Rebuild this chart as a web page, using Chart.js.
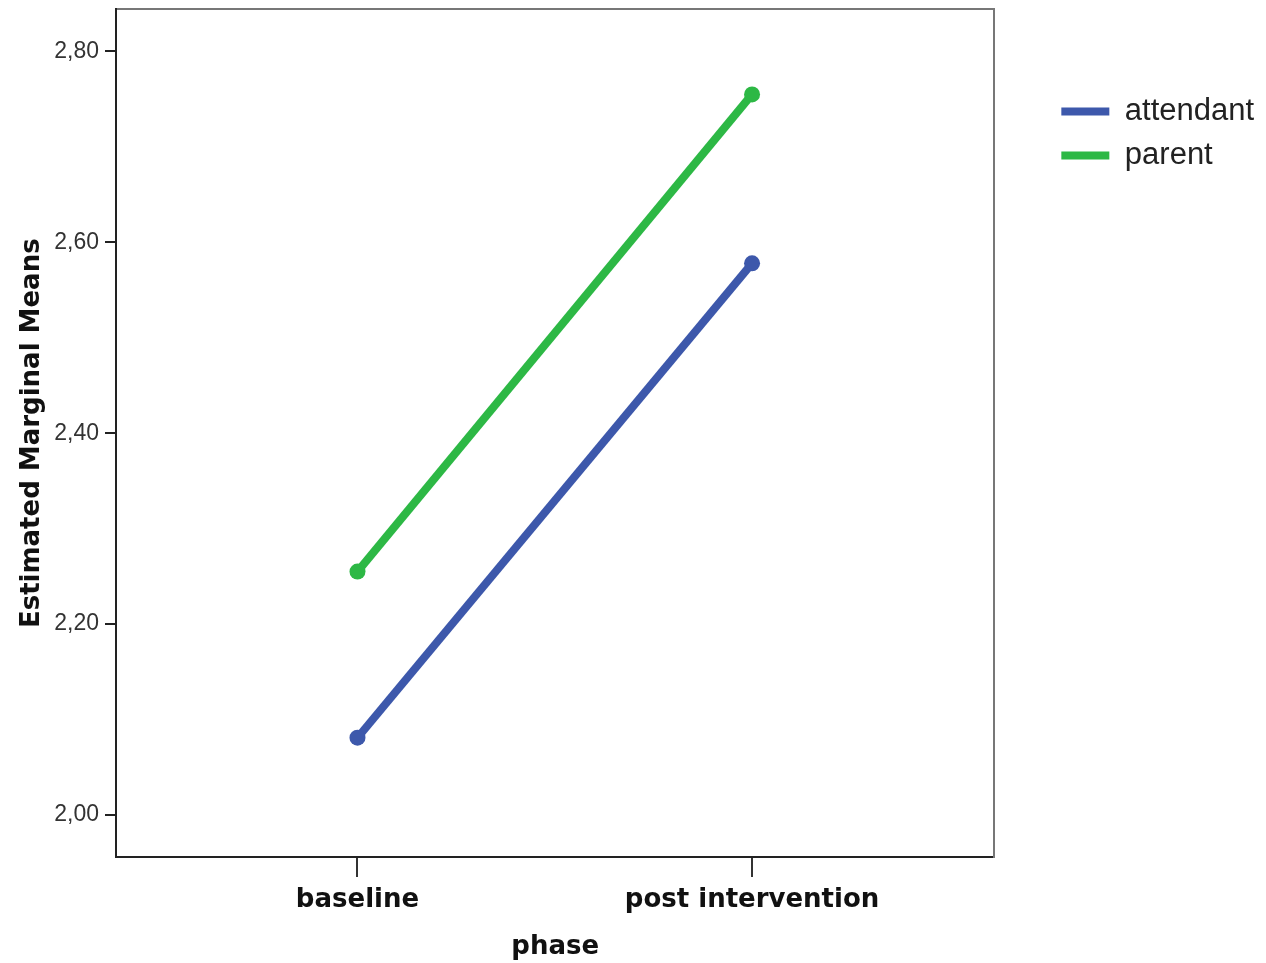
<!DOCTYPE html>
<html>
<head>
<meta charset="utf-8">
<script src="https://cdn.jsdelivr.net/npm/chart.js@4.4.1/dist/chart.umd.min.js"></script>
<style>
  html, body { margin: 0; padding: 0; background: #fff; }
  #wrap { width: 1266px; height: 963px; }
</style>
</head>
<body>
<div id="wrap"><canvas id="chart1" width="1266" height="963"></canvas></div>
<script>
// data
const phases = ["baseline", "post intervention"];
const attendant = [2.081, 2.578];
const parent = [2.255, 2.755];
const yTicks = [2.0, 2.2, 2.4, 2.6, 2.8];

const blue = "#3d58ab";
const green = "#2db845";

function points(vals) {
    return vals.map((v, i) => ({ x: i, y: v }));
}

const ctx1 = document.getElementById("chart1").getContext("2d");
const chart1 = new Chart(ctx1, {
    type: "line",
    data: {
        datasets: [
            {
                label: "attendant",
                data: points(attendant),
                borderColor: blue,
                backgroundColor: blue,
                borderWidth: 8,
                pointRadius: 8,
                pointHoverRadius: 8,
                pointBorderWidth: 0,
            },
            {
                label: "parent",
                data: points(parent),
                borderColor: green,
                backgroundColor: green,
                borderWidth: 8,
                pointRadius: 8,
                pointHoverRadius: 8,
                pointBorderWidth: 0,
            },
        ],
    },
    options: {
        responsive: false,
        animation: false,
        layout: { padding: { top: 0, left: 0, right: 8, bottom: 0 } },
        plugins: {
            tooltip: { enabled: false },
            legend: {
                position: "right",
                align: "start",
                title: { display: true, text: "", font: { size: 10, lineHeight: 1 }, padding: { top: 73, bottom: 0 } },
                labels: {
                    boxWidth: 48,
                    boxHeight: 8,
                    padding: 13,
                    color: "#222",
                    font: { family: "'Liberation Sans', Arial, sans-serif", size: 31 },
                    generateLabels(chart) {
                        return chart.data.datasets.map((ds, i) => ({
                            text: ds.label,
                            fillStyle: ds.borderColor,
                            strokeStyle: ds.borderColor,
                            fontColor: "#222",
                            lineWidth: 0,
                            hidden: false,
                            datasetIndex: i,
                        }));
                    },
                },
            },
        },
        scales: {
            x: {
                type: "linear",
                position: "bottom",
                min: -0.612,
                max: 1.614,
                afterBuildTicks: (s) => { s.ticks = phases.map((p, i) => ({ value: i })); },
                afterFit: (s) => { s.height = 106; },
                ticks: {
                    callback: (v) => phases[v],
                    color: "#111",
                    padding: 8,
                    maxRotation: 0,
                    font: { family: "'DejaVu Sans', sans-serif", weight: "bold", size: 26 },
                },
                grid: { drawOnChartArea: false, tickLength: 20, color: "#333", lineWidth: 2 },
                border: { color: "#222", width: 2 },
                title: {
                    display: true,
                    text: "phase",
                    color: "#111",
                    padding: { top: 0, bottom: 0 },
                    font: { family: "'DejaVu Sans', sans-serif", weight: "bold", size: 26 },
                },
            },
            x2: {
                type: "linear",
                position: "top",
                afterFit: (s) => { s.height = 0; },
                ticks: { display: false },
                grid: { display: false },
                border: { color: "#777", width: 2 },
            },
            y: {
                type: "linear",
                position: "left",
                min: 1.956,
                max: 2.844,
                afterBuildTicks: (s) => { s.ticks = yTicks.map((v) => ({ value: v })); },
                afterFit: (s) => { s.width = 116; },
                ticks: {
                    callback: (v) => v.toFixed(2).replace(".", ","),
                    color: "#333",
                    padding: 6,
                    font: { family: "'Liberation Sans', Arial, sans-serif", size: 23, lineHeight: 0.3 },
                },
                grid: { drawOnChartArea: false, tickLength: 11, color: "#222", lineWidth: 2 },
                border: { color: "#222", width: 2 },
                title: {
                    display: true,
                    text: "Estimated Marginal Means",
                    color: "#111",
                    padding: { top: 17, bottom: 0 },
                    font: { family: "'DejaVu Sans', sans-serif", weight: "bold", size: 26 },
                },
            },
            y2: {
                type: "linear",
                position: "right",
                afterFit: (s) => { s.width = 54; },
                ticks: { display: false },
                grid: { display: false },
                border: { color: "#777", width: 2 },
            },
        },
    },
});
</script>
</body>
</html>
